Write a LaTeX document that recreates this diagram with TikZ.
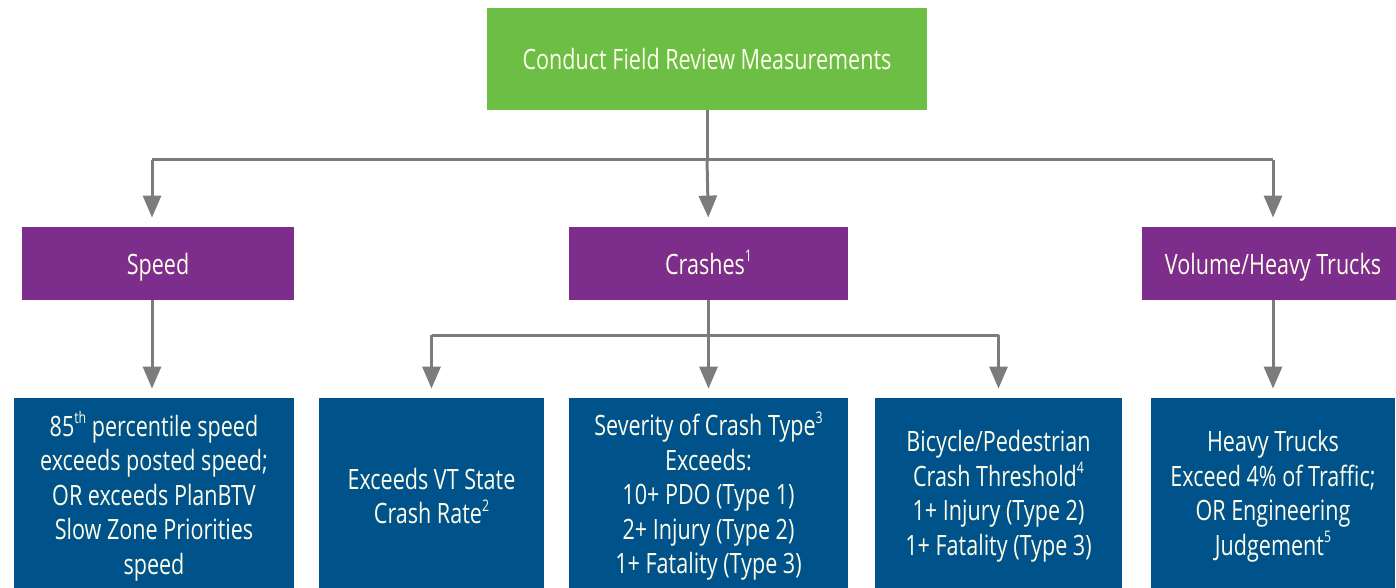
\documentclass[tikz,border=0pt]{standalone}
\usepackage{fontspec}
\setmainfont{Open Sans}[FakeStretch=0.77]
\usetikzlibrary{calc,arrows.meta}
\definecolor{ReviewGreen}{HTML}{6CBE45}
\definecolor{GroupPurple}{HTML}{7D2E8C}
\definecolor{RuleBlue}{HTML}{00538A}
\definecolor{FlowGray}{HTML}{7C7C7C}
\colorlet{BoxText}{white!92!yellow}
\newcommand{\fnote}[1]{\raisebox{0.85ex}{\fontsize{8}{8}\selectfont #1}}
\tikzset{
    box/.style={rectangle, inner sep=0pt, text=BoxText, align=center,
        font=\fontsize{14}{17.25}\selectfont},
    review/.style={box, fill=ReviewGreen, minimum width=220pt, minimum height=51pt,
        text height=11pt, text depth=0pt},
    group/.style={box, fill=GroupPurple, minimum height=36.5pt,
        text height=11pt, text depth=0pt},
    rule/.style={box, fill=RuleBlue, minimum height=98pt},
    flow/.style={draw=FlowGray, line width=1.5pt},
    flowarrow/.style={flow, -{Triangle[width=9pt,length=11pt]}, shorten >=4.5pt}
}

\begin{document}
\begin{tikzpicture}[x=0.5pt, y=-0.5pt]

    \useasboundingbox (0, 0) rectangle (1396, 588);

    \node[review] (field) at (707, 59) {Conduct Field Review Measurements};

    \node[group, minimum width=136pt] (speed) at (158, 263.5) {Speed};
    \node[group, minimum width=139.5pt] (crashes) at (708.5, 263.5) {Crashes\fnote{1}};
    \node[group, minimum width=131pt] (volume) at (1273, 263.5) {Volume/Heavy Trucks};

    \node[rule, minimum width=140pt] (speedrule) at (154, 496)
        {85\fnote{th} percentile speed\\exceeds posted speed;\\OR exceeds PlanBTV\\Slow Zone Priorities\\speed};
    \node[rule, minimum width=112.5pt] (raterule) at (431.5, 496)
        {Exceeds VT State\\Crash Rate\fnote{2}};
    \node[rule, minimum width=139.5pt] (severityrule) at (708.5, 496)
        {Severity of Crash Type\fnote{3}\\Exceeds:\\10+ PDO (Type 1)\\2+ Injury (Type 2)\\1+ Fatality (Type 3)};
    \node[rule, minimum width=123.5pt] (bikerule) at (998.5, 496)
        {Bicycle/Pedestrian\\Crash Threshold\fnote{4}\\1+ Injury (Type 2)\\1+ Fatality (Type 3)};
    \node[rule, minimum width=122pt] (truckrule) at (1273, 496)
        {Heavy Trucks\\Exceed 4\% of Traffic;\\OR Engineering\\Judgement\fnote{5}};

    % Bifurcaciones
    \coordinate (fieldsplit) at (707, 160);
    \coordinate (speedsplit) at (152, 160);
    \coordinate (crashsplit) at (708.5, 335);

    \draw[flow] (field.south) -- (fieldsplit);
    \draw[flow] (speedsplit) -- (volume.north |- fieldsplit);
    \draw[flowarrow] (speedsplit) -- (speedsplit |- speed.north);
    \draw[flowarrow] (fieldsplit) -- (crashes.north);
    \draw[flowarrow] (volume.north |- fieldsplit) -- (volume.north);

    \draw[flowarrow] (speedsplit |- speed.south) -- (speedsplit |- speedrule.north);
    \draw[flow] (crashes.south) -- (crashsplit);
    \draw[flow] (raterule.north |- crashsplit) -- (bikerule.north |- crashsplit);
    \draw[flowarrow] (raterule.north |- crashsplit) -- (raterule.north);
    \draw[flowarrow] (crashsplit) -- (severityrule.north);
    \draw[flowarrow] (bikerule.north |- crashsplit) -- (bikerule.north);
    \draw[flowarrow] (volume.south) -- (truckrule.north);

\end{tikzpicture}
\end{document}
